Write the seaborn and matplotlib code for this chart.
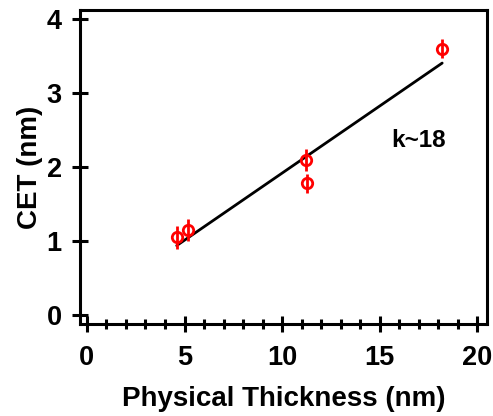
import numpy as np
import matplotlib
matplotlib.use("Agg")
import matplotlib.pyplot as plt
from matplotlib.ticker import MultipleLocator
import seaborn as sns

# data
thickness = [4.6, 5.2, 11.2, 11.3, 18.2]
cet = [1.05, 1.15, 2.1, 1.78, 3.6]
cet_err = [0.15, 0.15, 0.15, 0.13, 0.13]
x_ticks = [0, 5, 10, 15, 20]
y_ticks = [0, 1, 2, 3, 4]

sns.set_style("ticks")
plt.rcParams['font.family'] = ['Liberation Sans', 'DejaVu Sans']
plt.rcParams['font.weight'] = 'bold'
plt.rcParams['text.color'] = 'black'
plt.rcParams['axes.labelcolor'] = 'black'
plt.rcParams['xtick.color'] = 'black'
plt.rcParams['ytick.color'] = 'black'

fig = plt.figure(figsize=(4.93, 4.16), dpi=100)
ax = fig.add_axes([0.162, 0.221, 0.826, 0.755])

# linear fit line
sns.regplot(x=thickness, y=cet, ax=ax, scatter=False, ci=None,
            line_kws={'color': 'black', 'lw': 2.0})

ax.errorbar(thickness, cet, yerr=cet_err, fmt='o', color='red', mfc='none',
            mec='red', ms=7.5, mew=2, elinewidth=2, capsize=0, zorder=3)

ax.text(15.6, 2.36, 'k~18', fontsize=17.5, fontweight='bold', va='center')

ax.set_xlim(-0.36, 20.5)
ax.set_ylim(-0.12, 4.12)
ax.set_xticks(x_ticks)
ax.set_yticks(y_ticks)
ax.xaxis.set_minor_locator(MultipleLocator(1))

for s in ax.spines.values():
    s.set_linewidth(2.2)
    s.set_color('black')
ax.tick_params(which='major', direction='inout', length=12, width=2.2,
               labelsize=19.5, pad=7)
ax.tick_params(which='minor', direction='inout', length=7, width=2.2)
ax.tick_params(axis='x', pad=9)
for lab in ax.get_xticklabels() + ax.get_yticklabels():
    lab.set_fontweight('bold')

ax.set_xlabel('Physical Thickness (nm)', fontsize=20, fontweight='bold', labelpad=11)
ax.set_ylabel('CET (nm)', fontsize=20, fontweight='bold', labelpad=3)

fig.savefig('out.png', dpi=100)
